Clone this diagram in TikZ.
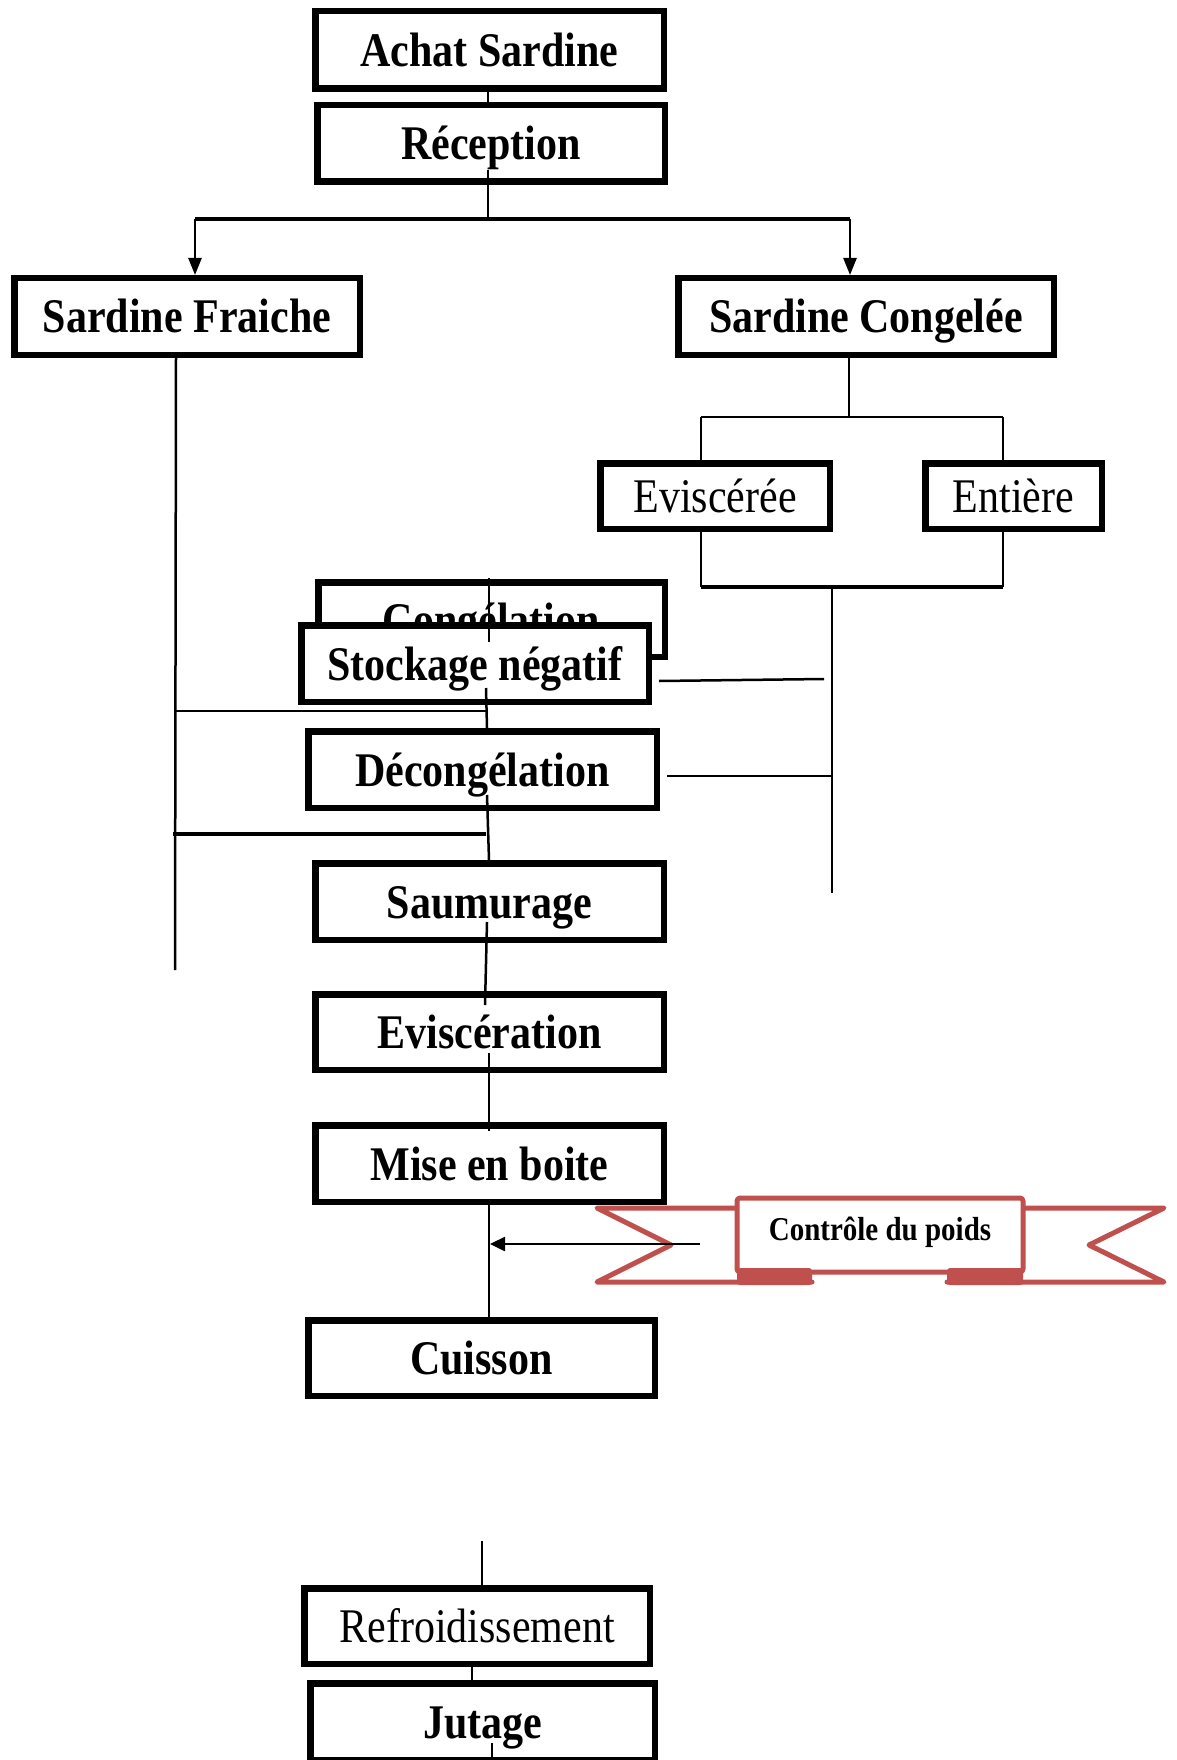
\documentclass[tikz,border=0pt]{standalone}
\usepackage{graphicx}
\usepackage{fontspec}
\setmainfont{Liberation Serif}
\usetikzlibrary{arrows.meta}
\definecolor{ribred}{HTML}{C0504D}
\newcommand{\tx}[1]{\scalebox{1}[1.15]{#1}}
\tikzset{
  box/.style={draw, line width=6.5pt, fill=white, inner sep=0pt,
    text height=33pt, text depth=0pt,
    font=\fontsize{42}{46}\selectfont\bfseries},
  rbox/.style={box, font=\fontsize{42}{46}\selectfont},
  ln/.style={line width=2.5pt},
  lnb/.style={line width=3.5pt},
  tip/.style={-{Triangle[length=17pt,width=13pt]}},
  rib/.style={draw=ribred, line width=5pt, line join=round, line cap=round},
}
\begin{document}
\begin{tikzpicture}[x=1pt,y=-1pt]
\useasboundingbox (0,0) rectangle (1176,1760);
\fill[white] (0,0) rectangle (1176,1760);

% boxes
\node[box, minimum width=348.5pt, minimum height=77.5pt] (achat) at (489.5,50) {\tx{Achat Sardine}};
\node[box, minimum width=347.5pt, minimum height=76.5pt] (recep) at (491,143.5) {\tx{Réception}};
\node[box, minimum width=345.5pt, minimum height=76.5pt] (fraiche) at (187,316.5) {\tx{Sardine Fraiche}};
\node[box, minimum width=375.5pt, minimum height=76.5pt] (congelee) at (866,316.5) {\tx{Sardine Congelée}};
\node[rbox, minimum width=229.5pt, minimum height=65.5pt] (evisceree) at (715,496) {\tx{Eviscérée}};
\node[rbox, minimum width=176.5pt, minimum height=65.5pt] (entiere) at (1013.5,496) {\tx{Entière}};
\node[box, minimum width=346.5pt, minimum height=74.5pt] (congel) at (491.5,619.5) {\tx{Congélation}};
\node[box, minimum width=347.5pt, minimum height=76.5pt] (stock) at (475,663.5) {\tx{Stockage négatif}};
\node[box, minimum width=348.5pt, minimum height=76.5pt] (decong) at (482.5,769.5) {\tx{Décongélation}};
\node[box, minimum width=348.5pt, minimum height=76.5pt] (saum) at (489.5,901.5) {\tx{Saumurage}};
\node[box, minimum width=348.5pt, minimum height=75.5pt] (evisc) at (489.5,1032) {\tx{Eviscération}};
\node[box, minimum width=348.5pt, minimum height=76.5pt] (mise) at (489.5,1163.5) {\tx{Mise en boite}};
\node[box, minimum width=346.5pt, minimum height=75.5pt] (cuisson) at (481.5,1358) {\tx{Cuisson}};
\node[rbox, minimum width=345.5pt, minimum height=75.5pt] (refroid) at (477,1626) {\tx{Refroidissement}};
\node[box, minimum width=344.5pt, minimum height=76.5pt] (jutage) at (482.5,1721.5) {\tx{Jutage}};

% ribbon
\draw[rib] (737,1208) -- (597,1208) -- (671,1245) -- (597,1282) -- (812,1282);
\draw[rib] (1023,1208) -- (1164,1208) -- (1089,1245) -- (1164,1282) -- (947,1282);
\draw[rib, fill=white, rounded corners=3pt] (737,1198) rectangle (1023,1272);
\fill[ribred, rounded corners=3pt] (737,1268) rectangle (812,1285);
\fill[ribred, rounded corners=3pt] (947,1268) rectangle (1023,1285);
\node[font=\fontsize{29}{32}\selectfont\bfseries] (ctrl) at (880,1232) {\tx{Contrôle du poids}};

% coordinates
\coordinate (r1) at (488,170);
\coordinate (r2) at (488,219);
\coordinate (hl) at (195,219);
\coordinate (hr) at (850,219);
\coordinate (fl1) at (176,358);
\coordinate (fl2) at (175,970);
\coordinate (c1) at (849,417);
\coordinate (ev1) at (701,417);
\coordinate (en1) at (1003,417);
\coordinate (ev2) at (701,587);
\coordinate (en2) at (1003,587);
\coordinate (m1) at (832,587);
\coordinate (m2) at (832,893);
\coordinate (sk1) at (659,681);
\coordinate (sk2) at (824,679);
\coordinate (dc1) at (667,776);
\coordinate (dc2) at (832,776);
\coordinate (cg1) at (489,578);
\coordinate (cg2) at (489,642);
\coordinate (sk3) at (486,688);
\coordinate (sk4) at (487,728);
\coordinate (lh1) at (176,711);
\coordinate (lh2) at (486,711);
\coordinate (dc3) at (487,795);
\coordinate (dc4) at (489,860);
\coordinate (lh3) at (173,834);
\coordinate (lh4) at (486,834);
\coordinate (sa1) at (487,922);
\coordinate (sa2) at (485,1005);
\coordinate (es1) at (489,1053);
\coordinate (es2) at (489,1131);
\coordinate (mi1) at (489,1205);
\coordinate (mi2) at (489,1317);
\coordinate (ar1) at (700,1244);
\coordinate (ar2) at (490,1244);
\coordinate (cu1) at (482,1541);
\coordinate (cu2) at (482,1585);
\coordinate (rf1) at (472,1667);
\coordinate (rf2) at (472,1680);
\coordinate (ju1) at (492,1743);
\coordinate (ju2) at (492,1762);

% connectors
\draw[ln] (488,92) -- (488,102);
\draw[ln] (r1) -- (r2);
\draw[lnb] (hl) -- (hr);
\draw[ln, tip] (hl) -- (fraiche.north -| hl);
\draw[ln, tip] (hr) -- (congelee.north -| hr);
\draw[ln] (fl1) -- (fl2);
\draw[ln] (congelee.south -| c1) -- (c1);
\draw[ln] (ev1) -- (en1);
\draw[ln] (ev1) -- (evisceree.north -| ev1);
\draw[ln] (en1) -- (entiere.north -| en1);
\draw[ln] (evisceree.south -| ev2) -- (ev2);
\draw[line width=2pt] (entiere.south -| en2) -- (en2);
\draw[lnb] (ev2) -- (en2);
\draw[ln] (m1) -- (m2);
\draw[ln] (sk1) -- (sk2);
\draw[ln] (dc1) -- (dc2);
\draw[ln] (cg1) -- (cg2);
\draw[ln] (sk3) -- (sk4);
\draw[ln] (lh1) -- (lh2);
\draw[ln] (dc3) -- (dc4);
\draw[lnb] (lh3) -- (lh4);
\draw[ln] (sa1) -- (sa2);
\draw[ln] (es1) -- (es2);
\draw[ln] (mi1) -- (mi2);
\draw[ln, -{Triangle[length=15pt,width=14pt]}] (ar1) -- (ar2);
\draw[ln] (cu1) -- (cu2);
\draw[ln] (rf1) -- (rf2);
\draw[ln] (ju1) -- (ju2);
\end{tikzpicture}
\end{document}
